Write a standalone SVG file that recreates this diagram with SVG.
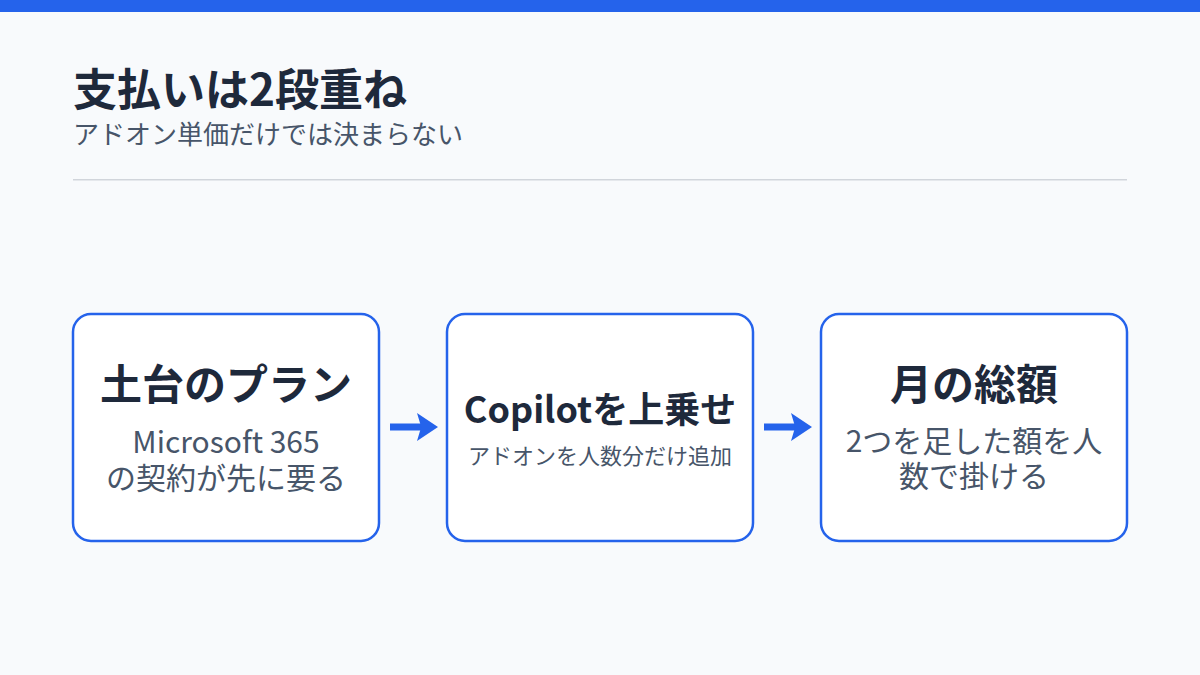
<svg xmlns="http://www.w3.org/2000/svg" width="1200" height="675" viewBox="0 0 1200 675">
<style>
.bg{fill:#f8fafc}
.box{fill:#ffffff;stroke:#2563eb;stroke-width:2.5}
.t{font-family:"Noto Sans CJK JP","Noto Sans",sans-serif;text-anchor:middle;fill:#1e293b;font-weight:700}
.s{font-family:"Noto Sans CJK JP","Noto Sans",sans-serif;text-anchor:middle;fill:#475569}
.conn{stroke:#2563eb;stroke-width:7;fill:none}
</style>
<defs>
<marker id="ah" markerWidth="3" markerHeight="4" refX="0.8" refY="2" orient="auto" markerUnits="strokeWidth" viewBox="0 0 3 4">
<path d="M0,0 L3,2 L0,4 L0.6,2 Z" fill="#2563eb"/>
</marker>
</defs>
<rect class="bg" x="0" y="0" width="1200" height="675"/>
<rect x="0" y="0" width="1200" height="12" fill="#2563eb"/>
<text x="73" y="106" font-family="Noto Sans CJK JP,Noto Sans,sans-serif" font-size="44" font-weight="700" fill="#1e293b">支払いは2段重ね</text>
<text x="73" y="144" font-family="Noto Sans CJK JP,Noto Sans,sans-serif" font-size="26" fill="#475569">アドオン単価だけでは決まらない</text>
<rect x="73" y="179" width="1054" height="1.5" fill="#d1d5db"/>
<g id="connectors">
<line class="conn" x1="390" y1="427" x2="422.6" y2="427" marker-end="url(#ah)"/>
<line class="conn" x1="764" y1="427" x2="796.6" y2="427" marker-end="url(#ah)"/>
</g>
<g id="node1">
<rect class="box" x="73" y="314" width="306" height="227" rx="18"/>
<text class="t" x="226" y="400" font-size="42">土台のプラン</text>
<text class="s" x="226" y="453" font-size="30">Microsoft 365</text>
<text class="s" x="226" y="489" font-size="30">の契約が先に要る</text>
</g>
<g id="node2">
<rect class="box" x="447" y="314" width="306" height="227" rx="18"/>
<text class="t" x="600" y="423" font-size="36">Copilotを上乗せ</text>
<text class="s" x="600" y="464" font-size="22">アドオンを人数分だけ追加</text>
</g>
<g id="node3">
<rect class="box" x="821" y="314" width="306" height="227" rx="18"/>
<text class="t" x="974" y="400" font-size="42">月の総額</text>
<text class="s" x="974" y="452" font-size="30">2つを足した額を人</text>
<text class="s" x="974" y="487" font-size="30">数で掛ける</text>
</g>
</svg>
